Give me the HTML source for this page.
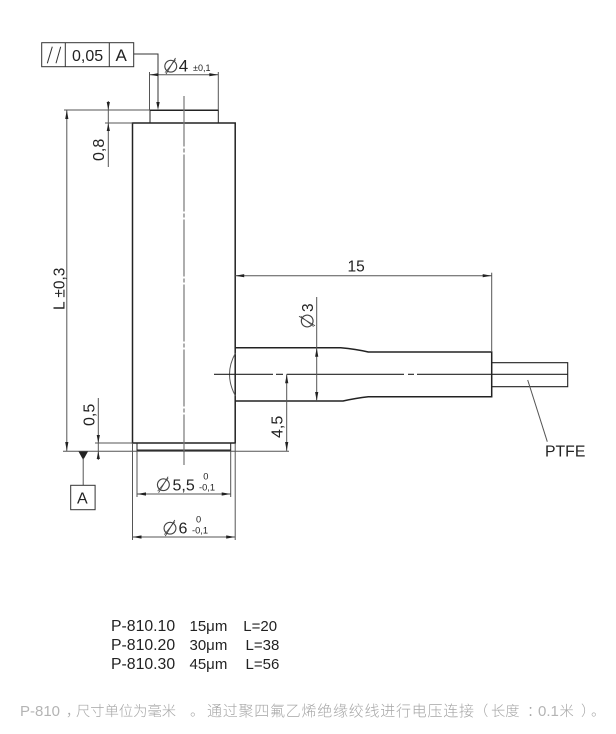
<!DOCTYPE html>
<html><head><meta charset="utf-8"><style>
html,body{margin:0;padding:0;background:#fff}
svg{display:block;filter:blur(.3px)}
text{font-family:"Liberation Sans","Noto Sans CJK SC",sans-serif;fill:#222}
.t{stroke:#222;stroke-width:1.5;fill:none}
.d{stroke:#555;stroke-width:1;fill:none}
.a{fill:#222;stroke:none}
.p{font-family:"DejaVu Sans",sans-serif;text-anchor:middle;font-size:18px;fill:#444}
.s{stroke:#444;stroke-width:.9;fill:none}
.cap text{fill:#a6a6a6;font-weight:300}
.cap .l{fill:#b4b4b4}
</style></head><body>
<svg width="616" height="734" viewBox="0 0 616 734" xmlns="http://www.w3.org/2000/svg">
<rect width="616" height="734" fill="#fff"/>

<!-- tolerance frame -->
<g class="d" style="stroke:#333">
<rect x="41.7" y="42.7" width="92" height="24"/>
<path d="M65.3 42.7V66.7M109.3 42.7V66.7"/>
<path d="M47.3 63.3L52.3 46.7M56 63.3L60.7 46.7"/>
<path d="M133.7 54H158V104"/>
</g>
<path class="a" d="M158 110l-1.7-8h3.4z"/>
<text x="72" y="61" font-size="16">0,05</text>
<text x="115.5" y="61" font-size="17">A</text>

<!-- Ø4 -->
<path class="d" d="M149.5 72V110M218.3 72V110M149.5 74.7H218.3"/>
<path class="a" d="M149.5 74.7l9 -1.6v3.2zM218.3 74.7l-9 -1.6v3.2z"/>
<text class="p" x="170.7" y="72.5">∅</text>
<path class="s" d="M166 74L175.5 58"/>
<text x="178.7" y="71.7" font-size="17">4</text>
<text x="193" y="71" font-size="9">±0,1</text>

<!-- body -->
<path class="t" d="M132.5 123H235.2V443H132.5Z"/>
<path class="t" d="M150 123V110.5H218.3V123" style="stroke-width:1"/>
<path class="t" d="M150 110.3H218.3"/>
<path class="t" d="M137 443V451H230.7V443" style="stroke-width:1"/>
<path class="t" d="M137 450.3H230.7"/>
<path d="M184 96V465" stroke="#777" stroke-width="1.2" fill="none" stroke-dasharray="57 2 4 2" stroke-dashoffset="6.5"/>

<!-- extension lines -->
<path class="d" d="M64 110H150M105 123H132.5M95 443H132.5M63 451.2H289"/>

<!-- L -->
<path class="d" d="M66.8 110V451"/>
<path class="a" d="M66.8 110l-1.6 9h3.2zM66.8 451l-1.6-9h3.2z"/>
<text transform="translate(64.5 310) rotate(-90)" font-size="15.5">L ±0,3</text>

<!-- 0,8 -->
<path class="d" d="M108.3 101V167"/>
<path class="a" d="M108.3 110l-1.6-8h3.2zM108.3 123l-1.6 8h3.2z"/>
<text transform="translate(104 161) rotate(-90)" font-size="16">0,8</text>

<!-- 0,5 -->
<path class="d" d="M98.3 398V460"/>
<path class="a" d="M98.3 443l-1.6-8h3.2zM98.3 451l-1.6 8h3.2z"/>
<text transform="translate(94.5 426) rotate(-90)" font-size="16">0,5</text>

<!-- datum A -->
<path class="a" d="M78.5 451.5H88L83.2 460Z"/>
<path class="d" d="M83.2 458V485.3"/>
<rect class="d" x="70.7" y="485.3" width="24.4" height="24.4" style="stroke:#333"/>
<text x="77" y="503.5" font-size="16">A</text>

<!-- Ø5,5 -->
<path class="d" d="M137 451V497M230.7 451V497M137 494H230.7"/>
<path class="a" d="M137 494l9-1.6v3.2zM230.7 494l-9-1.6v3.2z"/>
<text class="p" x="163.3" y="491.2">∅</text>
<path class="s" d="M158.6 492.7L168.1 476.7"/>
<text x="172.5" y="490.7" font-size="16">5,5</text>
<text x="203.3" y="479.5" font-size="9.3">0</text>
<text x="199" y="490.3" font-size="9.3">-0,1</text>

<!-- Ø6 -->
<path class="d" d="M132.5 443V540M235.2 443V540M132.5 537H235.2"/>
<path class="a" d="M132.5 537l9-1.6v3.2zM235.2 537l-9-1.6v3.2z"/>
<text class="p" x="170" y="534.5">∅</text>
<path class="s" d="M165.3 536L174.8 520"/>
<text x="178.5" y="533.7" font-size="16">6</text>
<text x="196" y="522.7" font-size="9.3">0</text>
<text x="192" y="533.7" font-size="9.3">-0,1</text>

<!-- cable -->
<path class="t" d="M235.2 347.7H340.7Q356 349 368.3 352H491.7V396.7H368.3Q356 398 343 401H235.2"/>
<path class="d" d="M491.7 272.7V352"/>
<path class="t" style="stroke-width:1.1" d="M491.7 362.7H567.7V386.7H491.7"/>
<path class="d" d="M235.5 353Q223.5 374.3 235.5 396"/>
<path d="M214 374.3H273M276 374.3H283M286.7 374.3H404M408 374.3H414M417 374.3H567.7" stroke="#222" stroke-width="1.1" fill="none"/>

<!-- 15 -->
<path class="d" d="M235.2 275.7H491.7"/>
<path class="a" d="M235.2 275.7l9-1.6v3.2zM491.7 275.7l-9-1.6v3.2z"/>
<text x="347.5" y="271.7" font-size="15.5">15</text>

<!-- Ø3 -->
<path class="d" d="M316.7 297V401"/>
<path class="a" d="M316.7 347.7l-1.6 9h3.2zM316.7 401l-1.6-9h3.2z"/>
<text class="p" transform="translate(313.5 321) rotate(-90)">∅</text>
<path class="s" d="M315 325.7L299 316.2"/>
<text transform="translate(313 312) rotate(-90)" font-size="15.5">3</text>

<!-- 4,5 -->
<path class="d" d="M286.7 374.3V451"/>
<path class="a" d="M286.7 374.3l-1.6 9h3.2zM286.7 451l-1.6-9h3.2z"/>
<text transform="translate(282.5 438) rotate(-90)" font-size="16">4,5</text>

<!-- PTFE -->
<path class="d" d="M527.7 380L547.3 441.7"/>
<text x="545" y="456.5" font-size="15.8">PTFE</text>

<!-- table -->
<g font-size="15">
<text x="111" y="631" font-size="15.8">P-810.10</text><text x="189.5" y="631">15μm</text><text x="243.3" y="631">L=20</text>
<text x="111" y="650" font-size="15.8">P-810.20</text><text x="189.5" y="650">30μm</text><text x="245.5" y="650">L=38</text>
<text x="111" y="669" font-size="15.8">P-810.30</text><text x="189.5" y="669">45μm</text><text x="245.5" y="669">L=56</text>
</g>

<!-- caption -->
<g class="cap">
<text class="l" x="20" y="716" font-size="15">P-810</text>
<text x="66" y="716" font-size="14.3">，</text>
<text x="76" y="716" font-size="14.3">尺寸单位为毫米</text>
<text x="190" y="716" font-size="14.3">。</text>
<text x="207" y="716" font-size="15" textLength="267" lengthAdjust="spacing">通过聚四氟乙烯绝缘绞线进行电压连接</text>
<text x="474" y="716" font-size="14.3">（</text>
<text x="491" y="716" font-size="14.3">长度</text>
<text x="527" y="716" font-size="14.3">：</text>
<text class="l" x="538" y="716" font-size="15">0.1</text>
<text x="559.5" y="716" font-size="14.3">米</text>
<text x="581" y="716" font-size="14.3">）</text>
<text x="591" y="716" font-size="14.3">。</text>
</g>
</svg>
</body></html>
